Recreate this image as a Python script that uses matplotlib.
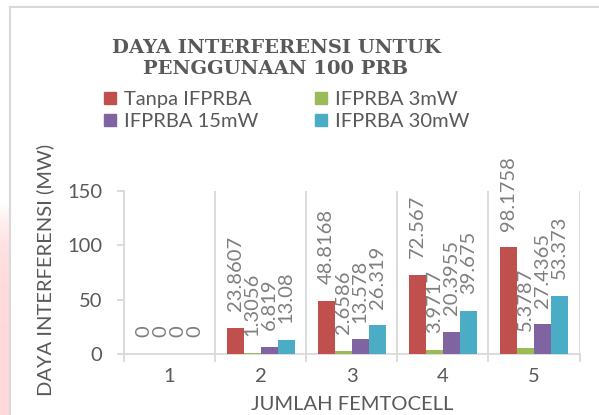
import numpy as np
import matplotlib
matplotlib.use('Agg')
import matplotlib.pyplot as plt
from matplotlib.lines import Line2D
from matplotlib.patches import Patch

# data
categories = ['1', '2', '3', '4', '5']
series_names = ['Tanpa IFPRBA', 'IFPRBA 3mW', 'IFPRBA 15mW', 'IFPRBA 30mW']
tanpa = [0, 23.8607, 48.8168, 72.567, 98.1758]
ifprba_3mw = [0, 1.3056, 2.6586, 3.9717, 5.3787]
ifprba_15mw = [0, 6.819, 13.578, 20.3955, 27.4365]
ifprba_30mw = [0, 13.08, 26.319, 39.675, 53.373]
label_text = [['0', '23.8607', '48.8168', '72.567', '98.1758'],
              ['0', '1.3056', '2.6586', '3.9717', '5.3787'],
              ['0', '6.819', '13.578', '20.3955', '27.4365'],
              ['0', '13.08', '26.319', '39.675', '53.373']]
colors = ['#C0504D', '#9BBB59', '#8064A2', '#4BACC6']

plt.rcParams['font.family'] = ['Lato', 'DejaVu Sans']
W, H = 599, 415
fig = plt.figure(figsize=(W/100, H/100), dpi=100)
fig.patch.set_facecolor('white')

# pinkish strip on the left edge + frame lines
grad = fig.add_axes([0, 0, 9/W, 212/H])
g = np.linspace(0, 1, 100).reshape(-1, 1)
grad.imshow(np.dstack([np.ones_like(g), 0.85 + 0.15*g**6, 0.86 + 0.14*g**6]),
            aspect='auto', origin='lower', extent=[0, 1, 0, 1])
grad.axis('off')
fig.add_artist(Line2D([10/W, 10/W], [0, 1-7/H], color='#D9D9D9', lw=1.5))
fig.add_artist(Line2D([10/W, 1], [1-7/H, 1-7/H], color='#D9D9D9', lw=1.5))

ax = fig.add_axes([124/W, 61/H, 455.5/W, 163/H])
x = np.arange(len(categories))
bw = 0.186
data = [tanpa, ifprba_3mw, ifprba_15mw, ifprba_30mw]
for i, (vals, c) in enumerate(zip(data, colors)):
    xs = x + (i - 1.5)*bw
    ax.bar(xs, vals, bw, color=c, label=series_names[i], zorder=3)
    for xi, v, t in zip(xs, vals, label_text[i]):
        ax.annotate(t, (xi, v), xytext=(0, 12), textcoords='offset points',
                    rotation=90, ha='center', va='bottom', fontsize=14.5,
                    color='#7F7F7F', annotation_clip=False)

ax.set_xlim(-0.5, 4.5)
ax.set_ylim(0, 150)
ax.set_yticks([0, 50, 100, 150])
ax.set_xticks(np.arange(-0.5, 5, 1))
ax.set_xticklabels([])
ax.set_xticks(x, minor=True)
ax.set_xticklabels(categories, minor=True)
ax.tick_params(axis='x', which='major', length=6, width=1.3, color='#D9D9D9', direction='out')
ax.tick_params(axis='x', which='minor', length=0, pad=10, labelsize=14.5, labelcolor='#595959')
ax.tick_params(axis='y', length=5, width=1.3, color='#D9D9D9', pad=10.5,
               labelsize=14.5, labelcolor='#595959')
ax.grid(axis='x', which='major', color='#D9D9D9', lw=1.3, zorder=0)
for s in ['top', 'right']:
    ax.spines[s].set_visible(False)
for s in ['left', 'bottom']:
    ax.spines[s].set_color('#D9D9D9')
    ax.spines[s].set_linewidth(1.3)

fig.text(45/W, 1-270/H, 'DAYA INTERFERENSI (MW)', rotation=90, ha='center', va='center',
         fontsize=14.5, color='#595959')
fig.text(352/W, 1-404/H, 'JUMLAH FEMTOCELL', ha='center', va='center',
         fontsize=14.5, color='#595959')
fig.text(276/W, 1-58.5/H, 'DAYA INTERFERENSI UNTUK\nPENGGUNAAN 100 PRB', ha='center', va='center',
         fontsize=14, color='#595959', family='DejaVu Serif', weight='bold', linespacing=1.2)

handles = [Patch(color=c) for c in colors]
order = [0, 2, 1, 3]
fig.legend([handles[k] for k in order], [series_names[k] for k in order], ncol=2,
           loc='upper left', bbox_to_anchor=(90/W, 1-77/H), frameon=False,
           fontsize=14.5, labelcolor='#595959', handlelength=0.6, handleheight=0.6,
           handletextpad=0.4, columnspacing=2.8, labelspacing=0.25, borderpad=0.2)

fig.savefig('out.png', dpi=100)
